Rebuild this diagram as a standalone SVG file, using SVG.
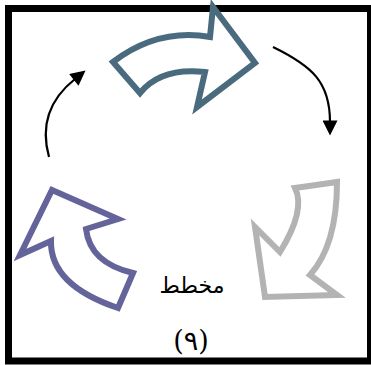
<svg xmlns="http://www.w3.org/2000/svg" width="371" height="365" viewBox="0 0 371 365">
<style>
.blk{fill:none;stroke:#4A6A7E;stroke-width:6;stroke-linejoin:miter}
.frame{fill:#fff;stroke:#000;stroke-width:7}
.con{fill:none;stroke:#000;stroke-width:2.2}
.lbl{font-family:"DejaVu Serif","DejaVu Sans",serif;fill:#000;text-anchor:middle}
</style>
<defs>
<marker id="ah2" viewBox="0 0 10 10" refX="1" refY="5" markerWidth="16" markerHeight="15" markerUnits="userSpaceOnUse" orient="auto">
<path d="M0,0 L10,5 L0,10 Z" fill="#000"/>
</marker>
</defs>
<rect class="frame" x="8.5" y="8.5" width="362" height="352.5"/>
<g id="arrow-top">
<path class="blk" d="M113,62 Q158,28 210,37 L213,7 L255,63 L197,107 L205,72 Q161,67 140,93 Z"/>
</g>
<g id="arrow-right">
<path class="blk" style="stroke:#B3B3B3" d="M295,188 L337,182 Q337,245 310,275 L337,295 L265,297 L255,227 L280,252 Q306,210 295,188 Z"/>
</g>
<g id="arrow-left">
<path class="blk" style="stroke:#64649A" d="M52,190 L118,219 L86,229 Q90,263 133,273 L118,308 Q50,285 51,241 L20,255 Z"/>
</g>
<g id="connectors">
<path class="con" d="M49,157 Q36,110 75,79" marker-end="url(#ah2)"/>
<path class="con" d="M273,47 C312,66 330,82 330,122" marker-end="url(#ah2)"/>
</g>
<g id="label">
<text class="lbl" x="192" y="293" font-size="22">مخطط</text>
<text class="lbl" x="191" y="350" font-size="27">(٩)</text>
</g>
</svg>
